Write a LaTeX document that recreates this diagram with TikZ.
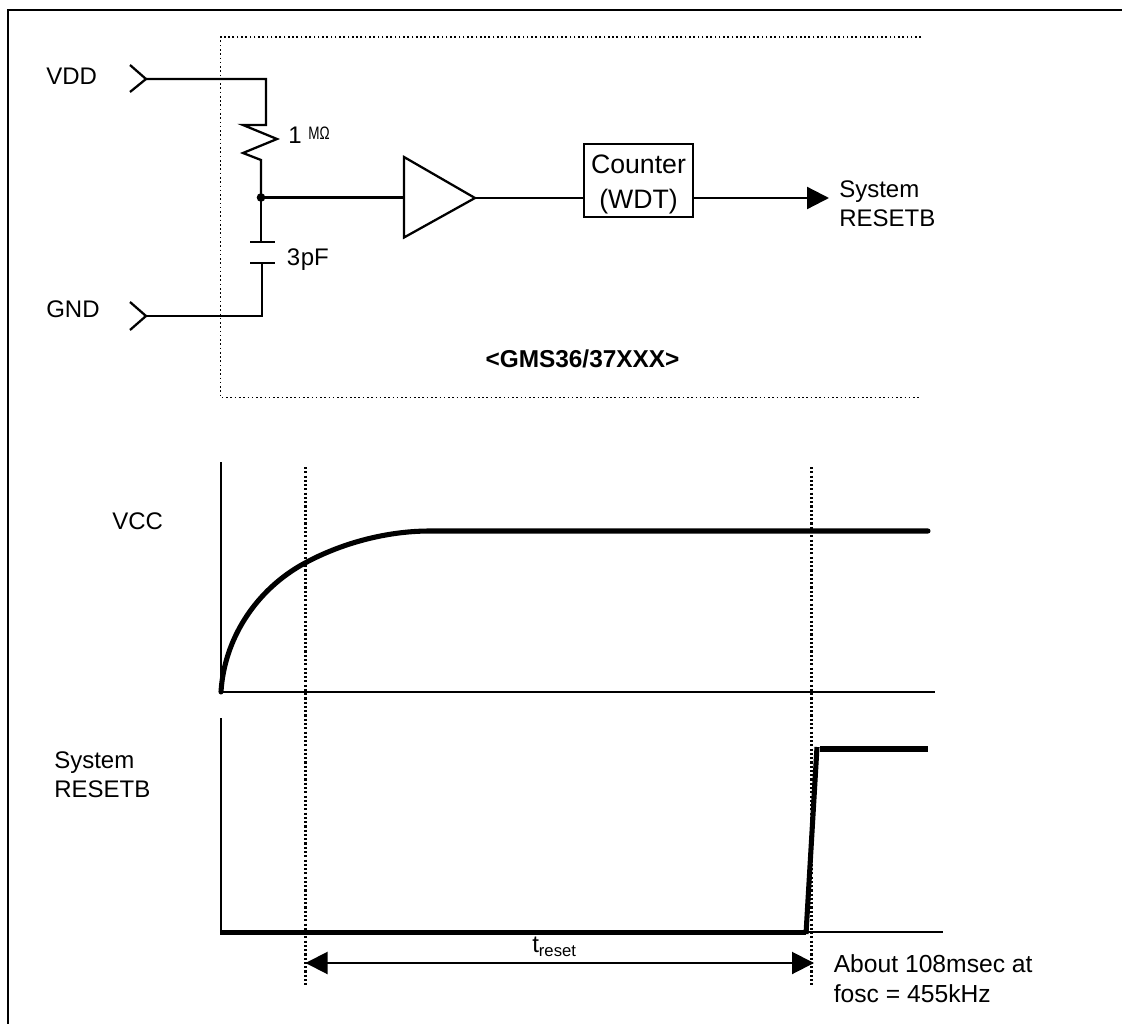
\documentclass[tikz,border=0pt]{standalone}
\usepackage{fontspec}
\setmainfont{Liberation Sans}
\usetikzlibrary{arrows.meta}
\tikzset{
 x=0.75pt,y=-0.75pt,
 wire/.style={line width=1.7pt,line join=miter},
 axis/.style={line width=1.5pt},
 signal/.style={line width=3.8pt},
 dots/.style={line width=1.2pt,dash pattern=on 1.2pt off 2pt},
 dotsb/.style={line width=2.4pt,dash pattern=on 1.6pt off 1.6pt},
 lbl/.style={inner sep=0pt,anchor=base west,font=\fontsize{18}{20}\selectfont},
 ctr/.style={inner sep=0pt,anchor=base,font=\fontsize{20}{24}\selectfont},
 note/.style={lbl,font=\fontsize{18.5}{20}\selectfont},
 bighead/.tip={Triangle[length=16.5pt,width=16.5pt]},
}
\begin{document}
\begin{tikzpicture}
\useasboundingbox (0,0) rectangle (1122,1024);
\fill[white] (0,0) rectangle (1122,1024);
\draw[line width=1.8pt] (8,1024) -- (8,10) -- (1122,10);
% dotted chip box
\draw[dots] (921,37) -- (220.5,37) -- (220.5,397.5) -- (921,397.5);
% inputs
\coordinate (vddtip) at (146,79);
\coordinate (gndtip) at (146,316);
\coordinate (j) at (261,197.5);
\draw[wire] (130,65) -- (vddtip) -- (130,92);
\draw[wire] (130,302) -- (gndtip) -- (130,330);
\draw[wire] (vddtip) -- (266,79) -- (266,125) -- (243,125) -- (277,139) -- (243,153) -- (261,160) -- (j);
\draw[wire] (j) -- (261,242);
\draw[wire] (250,242) -- (275,242);
\draw[wire] (250,263) -- (275,263);
\draw[wire] (262,263) -- (262,316) -- (gndtip);
\fill (j) circle (4.3);
\node[lbl] (vdd) at (46,84.5) {VDD};
\node[lbl] (gnd) at (46,317) {GND};
\node[lbl] (r) at (288,143) {1};
\node[inner sep=0pt,anchor=base west,font=\fontsize{13.5}{15}\selectfont] (rm) at (308,140) {\scalebox{0.75}[1]{MΩ}};
\node[lbl] (c) at (286.5,265) {3\kern0.5pt pF};
% buffer
\coordinate (b1) at (404,157);
\coordinate (b2) at (404,237.5);
\coordinate (b3) at (475,198);
\draw[wire] (b1) -- (b3) -- (b2) -- cycle;
\draw[wire] (j) -- (b1 |- j);
\node[draw,line width=1.7pt,minimum width=81.75pt,minimum height=55pt,inner sep=0pt] (cnt) at (638.5,180.5) {};
\node[ctr] (cnt1) at (638.5,173) {Counter};
\node[ctr] (cnt2) at (638.5,208) {(WDT)};
\draw[wire] (b3) -- (cnt.west |- b3);
\coordinate (outtip) at (829,198);
\draw[wire,-bighead] (cnt.east |- b3) -- (outtip);
\node[lbl] (sr1) at (839,197.5) {System};
\node[lbl] (sr2) at (839,226) {RESETB};
\node[font=\bfseries\fontsize{18.3}{20}\selectfont,inner sep=0pt,anchor=base] (chip) at (582.5,367) {<GMS36/37XXX>};
% VCC plot
\node[lbl] (vcc) at (112,529) {VCC};
\draw[axis] (220.5,462) -- (220.5,692);
\draw[axis] (220.5,692) -- (935,692);
\draw[signal,line cap=round] (221,692) .. controls (224,640) and (255,590) .. (305,563) .. controls (340,544) and (385,531) .. (430,531) -- (928,531);
% RESETB plot
\node[lbl] (srb1) at (54,768) {System};
\node[lbl] (srb2) at (54,797) {RESETB};
\draw[axis] (220.5,718) -- (220.5,932);
\draw[axis] (220.5,932) -- (943,932);
\draw[signal] (220,932.5) -- (806,932.5);
\draw[signal] (806,934) -- (817,747);
\draw[signal] (820,749) -- (928,749);
% timing
\coordinate (ta) at (305.5,963);
\coordinate (tb) at (814,963);
\draw[dotsb] (305.5,467) -- (305.5,987);
\draw[dotsb] (811.5,467) -- (811.5,987);
\node[inner sep=0pt,anchor=base west,font=\fontsize{18}{20}\selectfont] (tr) at (532,952) {t\raisebox{-3pt}{\fontsize{12.5}{14}\selectfont reset}};
\draw[line width=1.5pt,bighead-bighead] (ta) -- (tb);
\node[note] (ab1) at (833.5,972) {About 108msec at};
\node[note] (ab2) at (833.5,1002) {fosc = 455kHz};
\end{tikzpicture}
\end{document}
